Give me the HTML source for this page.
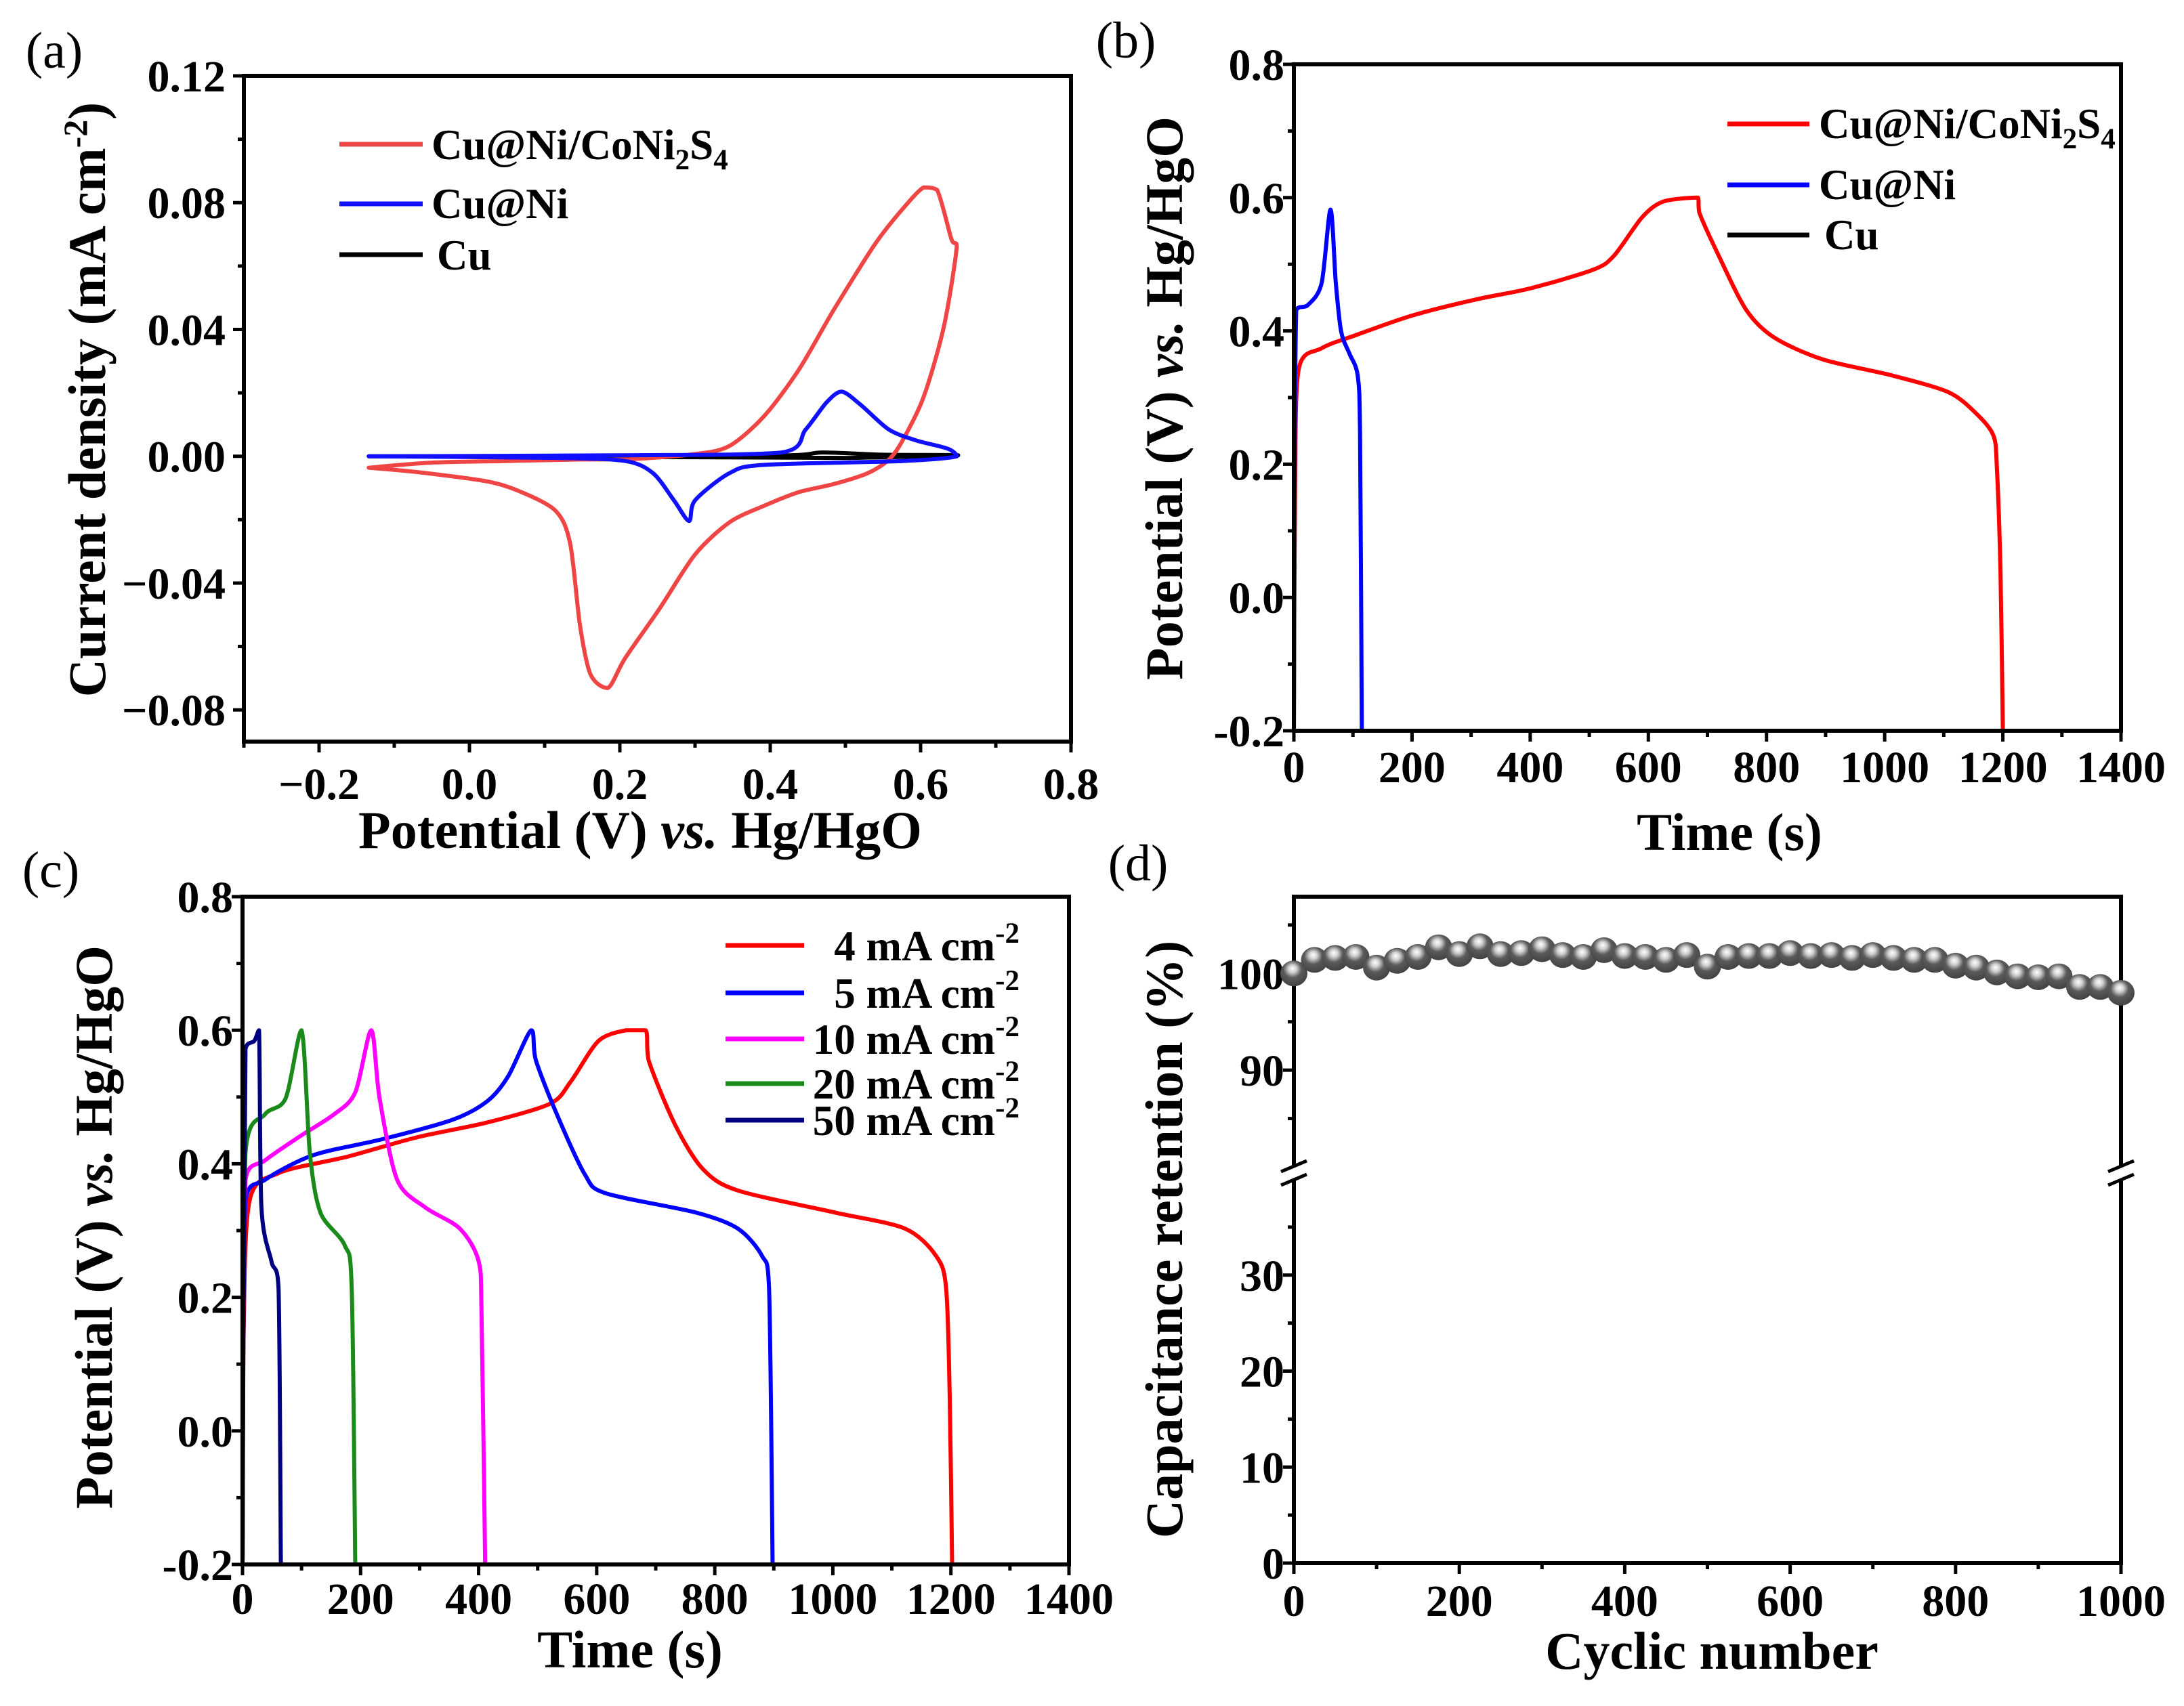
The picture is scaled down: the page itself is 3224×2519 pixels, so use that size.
<!DOCTYPE html>
<html><head><meta charset="utf-8"><style>
html,body{margin:0;padding:0;background:#fff;}
svg{display:block;font-family:"Liberation Serif","DejaVu Serif",serif;}
</style></head><body>
<svg id="fig" xmlns="http://www.w3.org/2000/svg" width="3224" height="2519" viewBox="0 0 3224 2519">
<defs>
<radialGradient id="ball" cx="0.45" cy="0.38" r="0.6" fx="0.45" fy="0.3">
<stop offset="0" stop-color="#ffffff"/><stop offset="0.25" stop-color="#cfcfcf"/><stop offset="0.55" stop-color="#5a5a5a"/><stop offset="1" stop-color="#444"/>
</radialGradient>
</defs>
</svg>
<script>
// ---------- Panel (a) CV data ----------
const cvRedV = [-0.134,-0.05,0.05,0.15,0.207,0.3,0.346,0.392,0.438,0.484,0.539,0.576,0.604,0.622,0.641,0.648,0.631,0.604,0.576,0.558,0.53,0.484,0.438,0.392,0.346,0.3,0.253,0.207,0.184,0.161,0.147,0.134,0.115,0.069,0.023,-0.069,-0.134];
const cvRedI = [-0.0036,-0.002,-0.0015,-0.001,-0.001,0.0007,0.0033,0.0127,0.0273,0.046,0.0668,0.078,0.0848,0.084,0.0685,0.066,0.041,0.0187,0.005,-0.001,-0.0053,-0.0088,-0.0113,-0.0156,-0.0208,-0.031,-0.048,-0.0637,-0.0731,-0.0688,-0.0534,-0.0276,-0.0173,-0.0113,-0.0079,-0.005,-0.0036];
const cvBlueV = [-0.134,0.2,0.415,0.447,0.475,0.495,0.521,0.558,0.594,0.636,0.648,0.576,0.392,0.346,0.3,0.292,0.272,0.244,0.207,0.115,-0.134];
const cvBlueI = [0,0.0003,0.0012,0.0084,0.017,0.0204,0.0161,0.0084,0.005,0.0024,0,-0.0015,-0.0027,-0.0053,-0.0139,-0.0204,-0.0139,-0.0053,-0.0015,-0.0005,0];
const cvBlackV = [-0.134,0.4,0.47,0.55,0.65,0.5,0.3,-0.134];
const cvBlackI = [0,0.0002,0.0012,0.0005,0.0003,-0.0005,-0.0003,0];
// ---------- Panel (b) GCD data ----------
const gbRedT = [0,2,8,47,106,200,307,401,507,542,589,625,684,686,719,766,813,896,1013,1108,1155,1184,1190,1196,1200];
const gbRedV = [-0.2,0.16,0.342,0.374,0.394,0.423,0.447,0.464,0.492,0.513,0.57,0.594,0.6,0.578,0.513,0.431,0.39,0.357,0.333,0.308,0.276,0.243,0.194,0.039,-0.2];
const gbBlueT = [0,4,24,47,62,71,80,94,108,112,115];
const gbBlueV = [-0.2,0.431,0.439,0.472,0.582,0.472,0.399,0.366,0.333,0.243,-0.2];
// ---------- Panel (c) rate data ----------
const c4T = [0,2,12,61,179,297,415,521,556,603,650,683,688,733,780,839,1004,1122,1175,1192,1198,1202];
const c4V = [-0.2,0.15,0.345,0.386,0.411,0.44,0.462,0.49,0.523,0.584,0.6,0.6,0.555,0.458,0.392,0.36,0.327,0.303,0.262,0.213,0.05,-0.2];
const c5T = [0,5,38,120,238,356,415,450,489,497,533,580,615,768,839,880,892,898];
const c5V = [-0.2,0.344,0.376,0.413,0.437,0.466,0.494,0.531,0.6,0.555,0.473,0.384,0.356,0.327,0.303,0.262,0.213,-0.2];
const c10T = [0,5,38,97,155,191,218,232,262,309,368,400,405,411];
const c10V = [-0.2,0.376,0.405,0.441,0.474,0.507,0.6,0.499,0.376,0.335,0.303,0.254,0.172,-0.2];
const c20T = [0,5,38,73,100,114,132,173,185,191];
const c20V = [-0.2,0.417,0.474,0.498,0.6,0.417,0.327,0.278,0.213,-0.2];
const c50T = [0,5,20,28,32,49,61,65];
const c50V = [-0.2,0.572,0.584,0.6,0.335,0.254,0.213,-0.2];
// ---------- Panel (d) cycling data ----------
const cycN = [0,25,50,75,100,125,150,175,200,225,250,275,300,325,350,375,400,425,450,475,500,525,550,575,600,625,650,675,700,725,750,775,800,825,850,875,900,925,950,975,1000];
const cycRet = [100.0,101.4,101.6,101.7,100.6,101.3,101.7,102.7,102.0,102.8,102.0,102.1,102.5,101.9,101.7,102.4,101.8,101.7,101.4,101.9,100.7,101.7,101.8,101.8,102.1,101.8,101.9,101.6,101.9,101.6,101.4,101.4,100.8,100.6,100.1,99.7,99.6,99.7,98.6,98.6,98.0];
const tickA_x = ["−0.2","0.0","0.2","0.4","0.6","0.8"];
const tickA_y = ["−0.08","−0.04","0.00","0.04","0.08","0.12"];

const TF = 66, TT = 78, LF = 63;
const NS = "http://www.w3.org/2000/svg";
const svg = document.getElementById("fig");
function mk(tag, attrs, parent){const e=document.createElementNS(NS,tag);for(const k in attrs)e.setAttribute(k,attrs[k]);(parent||svg).appendChild(e);return e;}
function txt(s, x, y, size, anchor, parent, weight, style){const t=mk("text",{x:x,y:y,"font-size":size,"text-anchor":anchor||"middle","font-weight":weight||"bold","fill":"#000"},parent);if(style)t.setAttribute("font-style",style);t.textContent=s;return t;}
function lin(x0,x1,p0,p1){return v=>p0+(v-x0)/(x1-x0)*(p1-p0);}

function frame(g,L,T,R,B){const r=mk("rect",{x:L,y:T,width:R-L,height:B-T,fill:"none",stroke:"#000","stroke-width":6},g);}
function xtick(g,px,B,major){const l=mk("line",{x1:px,x2:px,y1:B,y2:B+(major?16:9),stroke:"#000","stroke-width":5},g);}
function ytick(g,py,L,major){const l=mk("line",{x1:L,x2:L-(major?16:9),y1:py,y2:py,stroke:"#000","stroke-width":5},g);}
function cl(v,a,b){const lo=Math.min(a,b),hi=Math.max(a,b);return Math.max(lo,Math.min(hi,v));}
function smoothPath(P){
let d="M"+P[0][0].toFixed(1)+","+P[0][1].toFixed(1);
for(let i=0;i<P.length-1;i++){
const p0=P[Math.max(0,i-1)],p1=P[i],p2=P[i+1],p3=P[Math.min(P.length-1,i+2)];
const k=1/7;
const c1=[cl(p1[0]+(p2[0]-p0[0])*k,p1[0],p2[0]),cl(p1[1]+(p2[1]-p0[1])*k,p1[1],p2[1])];
const c2=[cl(p2[0]-(p3[0]-p1[0])*k,p1[0],p2[0]),cl(p2[1]-(p3[1]-p1[1])*k,p1[1],p2[1])];
d+=" C"+c1[0].toFixed(1)+","+c1[1].toFixed(1)+" "+c2[0].toFixed(1)+","+c2[1].toFixed(1)+" "+p2[0].toFixed(1)+","+p2[1].toFixed(1);
}
return d;}
function series(g,xs,ys,fx,fy,color,w,name){const P=xs.map((v,i)=>[fx(v),fy(ys[i])]);const p=mk("path",{d:smoothPath(P),fill:"none",stroke:color,"stroke-width":w,"stroke-linejoin":"round","stroke-linecap":"round"},g);return p;}
function legLine(g,x1,x2,y,color,name){const l=mk("line",{x1:x1,x2:x2,y1:y,y2:y,stroke:color,"stroke-width":7},g);}
function rotTitle(g,s,x,y,size){const t=mk("text",{x:0,y:0,"font-size":size,"text-anchor":"middle","font-weight":"bold",transform:`translate(${x},${y}) rotate(-90)`},g);return t;}

// ================= Panel (a) =================
{
const g=mk("g",{});
const L=360,R=1581,T=112,B=1095;
const fx=lin(-0.3,0.8,L,R), fy=lin(-0.09,0.12,B,T);
const pl=txt("(a)",80,100,76,"middle",g,"normal");
series(g,cvBlackV,cvBlackI,fx,fy,"#000",6,"cu-cv-curve");
series(g,cvRedV,cvRedI,fx,fy,"#f04545",6,"cu-ni-coni2s4-cv-curve");
series(g,cvBlueV,cvBlueI,fx,fy,"#1010ff",6,"cu-ni-cv-curve");
frame(g,L,T,R,B);
for(let v=-0.3;v<=0.801;v+=0.1){const vv=Math.round(v*10)/10;xtick(g,fx(vv),B,Math.abs(Math.round(vv*10))%2===0);}
for(let i=0;i<tickA_x.length;i++){const v=-0.2+0.2*i;const t=txt(tickA_x[i],fx(v),1180,TF,"middle",g);}
for(let k=-4;k<=6;k++){ytick(g,fy(k*0.02),L,k%2===0);}
for(let i=0;i<tickA_y.length;i++){const v=-0.08+0.04*i;const t=txt(tickA_y[i],333,fy(v)+23,TF,"end",g);}
const xt=mk("text",{x:945,y:1252,"font-size":TT,"text-anchor":"middle","font-weight":"bold"},g);xt.innerHTML='Potential (V) <tspan font-style="italic">vs.</tspan> Hg/HgO';
const yt=rotTitle(g,"",155,590,TT);yt.innerHTML='Current density (mA cm<tspan dy="-27" font-size="50">-2</tspan><tspan dy="27">)</tspan>';
legLine(g,501,624,213,"#f04545","legend-line-cu-ni-coni2s4");
legLine(g,501,624,301,"#1010ff","legend-line-cu-ni");
legLine(g,501,624,376,"#000","legend-line-cu");
const l1=mk("text",{x:637,y:235,"font-size":LF,"font-weight":"bold"},g);l1.innerHTML='Cu@Ni/CoNi<tspan dy="15" font-size="43">2</tspan><tspan dy="-15">S</tspan><tspan dy="15" font-size="43">4</tspan>';
const l2=txt("Cu@Ni",637,322,LF,"start",g);
const l3=txt("Cu",645,398,LF,"start",g);
}

// GCD panel builder
function gcdAxes(g,L,T,R,B,label,lx,ly,tickBase,titleBase,titleX,ytX,ytY){
const fx=lin(0,1400,L,R), fy=lin(-0.2,0.8,B,T);
const pl=txt(label,lx,ly,76,"middle",g,"normal");
return [fx,fy,function(){
frame(g,L,T,R,B);
for(let v=0;v<=1400;v+=100){xtick(g,fx(v),B,v%200===0);}
for(let v=0;v<=1400;v+=200){const t=txt(String(v),fx(v),tickBase,TF,"middle",g);}
for(let k=-2;k<=8;k++){ytick(g,fy(k/10),L,k%2===0);}
for(let k=-2;k<=8;k+=2){const t=txt((k/10).toFixed(1),L-14,fy(k/10)+23,TF,"end",g);}
const xt=txt("Time (s)",titleX,titleBase,TT,"middle",g);
const yt=rotTitle(g,"",ytX,ytY,TT);yt.innerHTML='Potential (V) <tspan font-style="italic">vs.</tspan> Hg/HgO';
}];
}

// ================= Panel (b) =================
{
const g=mk("g",{});
const [fx,fy,draw]=gcdAxes(g,1910,95,3131,1079,"(b)",1662,85,1155,1255,2553,1745,588);
series(g,gbRedT,gbRedV,fx,fy,"#ff0000",6,"cu-ni-coni2s4-gcd-curve");
series(g,gbBlueT,gbBlueV,fx,fy,"#0000ff",6,"cu-ni-gcd-curve");
draw();
legLine(g,2550,2671,183,"#ff0000","legend-line-cu-ni-coni2s4");
legLine(g,2550,2671,273,"#0000ff","legend-line-cu-ni");
legLine(g,2550,2671,347,"#000","legend-line-cu");
const l1=mk("text",{x:2685,y:204,"font-size":LF,"font-weight":"bold"},g);l1.innerHTML='Cu@Ni/CoNi<tspan dy="15" font-size="43">2</tspan><tspan dy="-15">S</tspan><tspan dy="15" font-size="43">4</tspan>';
const l2=txt("Cu@Ni",2685,294,LF,"start",g);
const l3=txt("Cu",2693,368,LF,"start",g);
}

// ================= Panel (c) =================
{
const g=mk("g",{});
const [fx,fy,draw]=gcdAxes(g,358,1324,1578,2310,"(c)",75,1310,2383,2462,930,165,1812);
series(g,c4T,c4V,fx,fy,"#ff0000",6,"gcd-4ma-curve");
series(g,c5T,c5V,fx,fy,"#0000ff",6,"gcd-5ma-curve");
series(g,c10T,c10V,fx,fy,"#ff00ff",6,"gcd-10ma-curve");
series(g,c20T,c20V,fx,fy,"#1a8a1a",6,"gcd-20ma-curve");
series(g,c50T,c50V,fx,fy,"#000080",6,"gcd-50ma-curve");
draw();
const cols=["#ff0000","#0000ff","#ff00ff","#1a8a1a","#000080"];
const labs=["4","5","10","20","50"];
const ys=[1396,1466,1534,1600,1654];
for(let i=0;i<5;i++){
legLine(g,1071,1187,ys[i],cols[i],"legend-line-"+labs[i]+"ma");
const t=mk("text",{x:1505,y:ys[i]+22,"font-size":LF,"font-weight":"bold","text-anchor":"end"},g);
t.innerHTML=labs[i]+' mA cm<tspan dy="-26" font-size="43">-2</tspan>';


}
}

// ================= Panel (d) =================
{
const g=mk("g",{});
const L=1910,R=3131,T=1324,B=2308;
const fx=lin(0,1000,L,R);
const fyLow=lin(0,40,B,1741), fyUp=lin(80,108,1723,1323);
const fy=v=>v>=60?fyUp(v):fyLow(v);
const pl=txt("(d)",1680,1300,76,"middle",g,"normal");
const f1=mk("line",{x1:L,x2:R,y1:T,y2:T,stroke:"#000","stroke-width":6},g);
const f2=mk("line",{x1:L-3,x2:R+3,y1:B,y2:B,stroke:"#000","stroke-width":6},g);
for(const x of [L,R]){
const a=mk("line",{x1:x,x2:x,y1:T-3,y2:1722,stroke:"#000","stroke-width":6},g);
const b=mk("line",{x1:x,x2:x,y1:1742,y2:B,stroke:"#000","stroke-width":6},g);
const s1=mk("line",{x1:x-19,x2:x+19,y1:1730,y2:1714,stroke:"#000","stroke-width":5},g);
const s2=mk("line",{x1:x-19,x2:x+19,y1:1750,y2:1734,stroke:"#000","stroke-width":5},g);
}
for(let v=0;v<=1000;v+=100){xtick(g,fx(v),B,v%200===0);}
for(let v=0;v<=1000;v+=200){const t=txt(String(v),fx(v),2386,TF,"middle",g);}
for(let v=0;v<=35;v+=5){ytick(g,fyLow(v),L,v%10===0);}
for(let v=85;v<=105;v+=5){ytick(g,fyUp(v),L,v%10===0);}
for(const v of [0,10,20,30]){const t=txt(String(v),L-14,fyLow(v)+23,TF,"end",g);}
for(const v of [90,100]){const t=txt(String(v),L-14,fyUp(v)+23,TF,"end",g);}
for(let i=0;i<cycN.length;i++){
const c=mk("ellipse",{cx:fx(cycN[i]),cy:fy(cycRet[i]),rx:20,ry:19,fill:"url(#ball)"},g);


}
const xt=txt("Cyclic number",2527,2464,TT,"middle",g);
const yt=rotTitle(g,"",1745,1830,TT);yt.textContent="Capacitance retention (%)";
}
</script>
</body></html>
